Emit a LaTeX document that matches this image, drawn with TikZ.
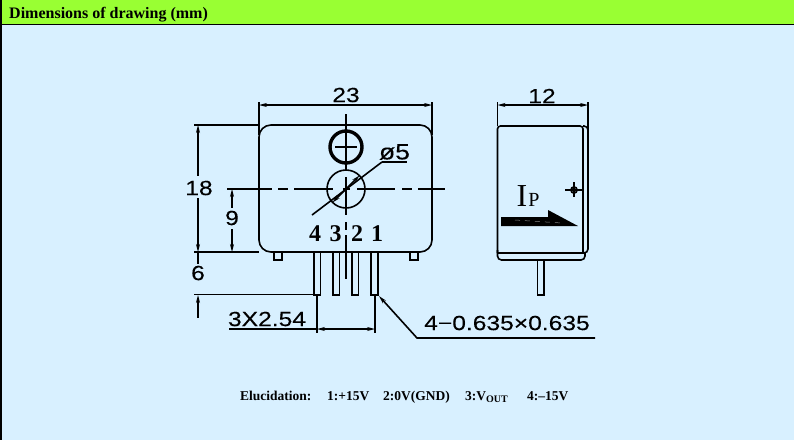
\documentclass[tikz,border=0pt]{standalone}
\usepackage{fontspec}
\setmainfont{Liberation Serif}
\newfontfamily\cad[FakeStretch=1.2,FakeBold=0.15]{Liberation Sans}
\usetikzlibrary{arrows.meta}
\definecolor{bgblue}{HTML}{D8F0FF}
\definecolor{headgreen}{HTML}{99FF33}
\tikzset{
  ln/.style={line width=1.6pt,black},
  thin ln/.style={line width=1.1pt,black},
  tip/.tip={Stealth[length=8pt,width=4pt]},
  dim/.style={line width=1.1pt,black,tip-tip},
  cadtext/.style={font=\cad\fontsize{20.5}{20.5}\selectfont,inner sep=0pt},
  pinlabel/.style={font=\bfseries\fontsize{24}{24}\selectfont,inner sep=0pt,anchor=base},
  note/.style={font=\bfseries\fontsize{13.5}{13.5}\selectfont,inner sep=0pt,anchor=base west},
}
\begin{document}
\begin{tikzpicture}[x=1pt,y=-1pt]
\useasboundingbox (0,0) rectangle (794,440);
\fill[bgblue] (0,0) rectangle (794,440);
\fill[headgreen] (0,0) rectangle (794,24);
\draw[line width=1.2pt] (0,24.4) -- (794,24.4);
\draw[line width=1.6pt] (0.8,0) -- (0.8,440);
\node[font=\bfseries\fontsize{16}{16}\selectfont,inner sep=0pt,anchor=base west] (title) at (9,18.5) {Dimensions of drawing (mm)};
% front body
\draw[ln,rounded corners=12pt] (259,125) rectangle (432,252);
\coordinate (tl) at (259,102); \coordinate (tr) at (432,102);
\draw[ln] (tl) -- (259,135);
\draw[ln] (tr) -- (432,135);
\draw[dim] (259,105) -- (432,105);
\node[cadtext] (d23) at (346,95) {23};
% extension lines
\draw[ln] (194,125) -- (259,125);
\draw[ln] (194,252) -- (259,252);
\draw[thin ln,tip-] (198,125) -- (198,176);
\draw[thin ln,-tip] (198,198) -- (198,252);
\node[cadtext] (d18) at (199,188) {18};
\draw[thin ln,tip-] (232,189) -- (232,208);
\draw[thin ln,-tip] (232,229) -- (232,252);
\node[cadtext] (d9) at (232,218) {9};
% center lines
\draw[ln] (227,189) -- (272,189) (278,189) -- (288,189) (294,189) -- (333,189) (343,189) -- (350,189) (357,189) -- (395,189) (402,189) -- (412,189) (418,189) -- (445,189);
\draw[ln] (346,114) -- (346,170) (346,177) -- (346,215) (346,222) -- (346,230) (346,235) -- (346,279);
% screw and hole
\draw[line width=3.4pt] (346,147) circle (16);
\draw[line width=2.2pt] (335,147) -- (357,147);
\draw[ln] (346,189) circle (19);
\draw[ln,tip-tip] (332.5,202.5) -- (359.5,175.5);
\draw[ln] (312,215) -- (382,162);
\draw[thin ln] (382,162) -- (407,162);
\node[cadtext,font=\cad\fontsize{22}{22}\selectfont] (phi) at (394.5,152) {ø5};
% pins
\foreach \xa/\xb in {314/320.5,333/339.5,352/358.5,371/378}
  \draw[ln] (\xa,252) -- (\xa,295) -- (\xb,295) -- (\xb,252);
\foreach \xa/\xb in {274/282,410/418}
  \draw[ln] (\xa,252) -- (\xa,260) -- (\xb,260) -- (\xb,252);
\foreach \x/\t in {315/4,335.5/3,357/2,377/1}
  \node[pinlabel] at (\x,241) {\t};
% dim 6
\node[cadtext] (d6) at (198,273) {6};
\draw[thin ln] (198,252) -- (198,264);
\draw[ln] (194,294.5) -- (318,294.5);
\draw[thin ln,tip-] (198,295) -- (198,318);
% 3x2.54
\draw[ln] (317,295) -- (317,333);
\draw[ln] (375,295) -- (375,333);
\draw[thin ln] (229,329) -- (317,329);
\draw[dim] (317,329) -- (375,329);
\node[cadtext] (d3x) at (267,319) {3X2.54};
% leader
\draw[ln,tip-] (379,296) -- (417,338) -- (595,338);
\node[cadtext] (d4) at (507,323) {4−0.635×0.635};
% side view
\draw[ln,rounded corners=3pt] (497.5,253) -- (497.5,126) -- (583,126) -- (583,253);
\draw[ln,rounded corners=4pt] (583,126) -- (588,126) -- (588,253) -- (583,253);
\draw[ln,rounded corners=4pt] (585,253) -- (585,260) -- (497.5,260) -- (497.5,250);
\draw[ln] (497.5,253) -- (584,253);
\draw[ln] (497.5,102) -- (497.5,126);
\draw[ln] (588,102) -- (588,130);
\draw[dim] (497.5,105) -- (588,105);
\node[cadtext] (d12) at (542,96) {12};
\draw[ln] (537.5,260) -- (537.5,295) -- (544,295) -- (544,260);
\node[font=\fontsize{32}{32}\selectfont,inner sep=0pt,anchor=base] (ip) at (522,206) {I};
\node[font=\fontsize{20}{20}\selectfont,inner sep=0pt,anchor=base] (ip2) at (534,206) {P};
\fill (501,217) -- (548,217) -- (548,210) -- (578,226) -- (501,226) -- cycle;
\draw[gray,line width=.5pt,dash pattern=on 5pt off 5pt] (515,220) -- (562,223);
\draw[line width=1.8pt] (574,190) circle (3);
\draw[ln] (565,190) -- (583,190) (574,182) -- (574,197);
% note
\node[note] (n0) at (240,400) {Elucidation:};
\node[note] (n1) at (327,400) {1:+15V};
\node[note] (n2) at (383,400) {2:0V(GND)};
\node[note] (n3) at (465,400) {3:V\raisebox{-2.5pt}{\fontsize{10}{10}\selectfont OUT}};
\node[note] (n4) at (527,400) {4:–15V};
\end{tikzpicture}
\end{document}
